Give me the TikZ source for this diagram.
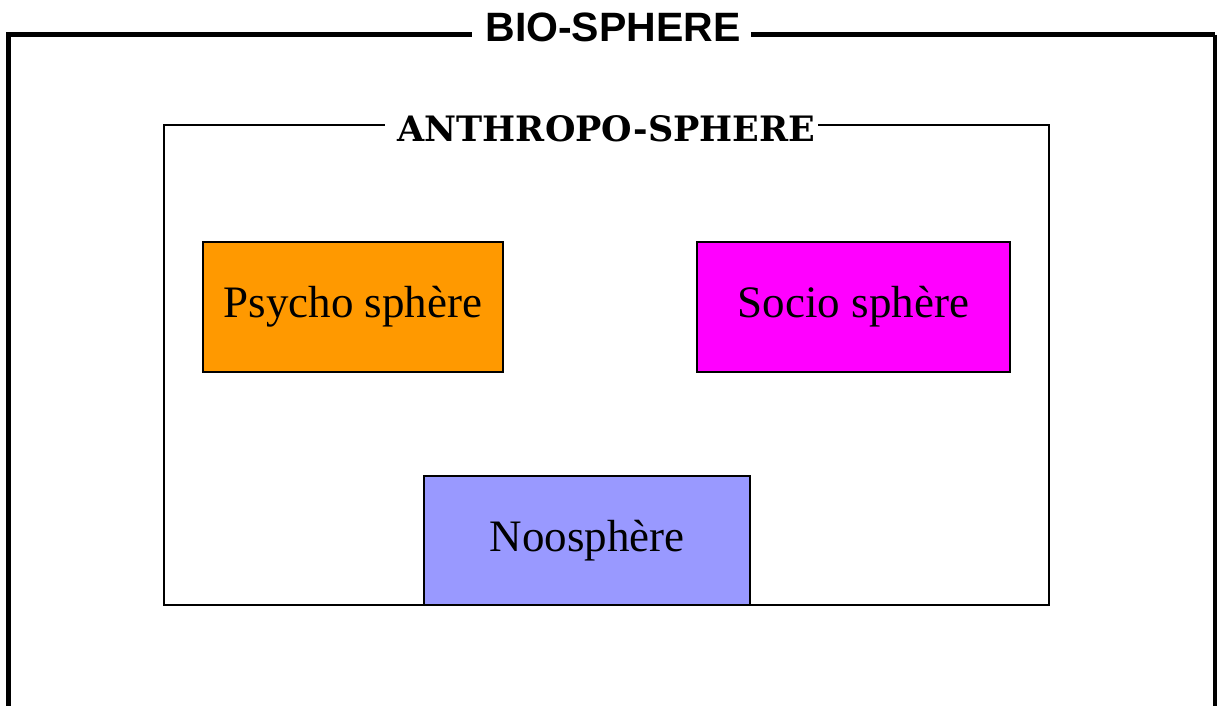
\documentclass[tikz,border=0pt]{standalone}
\usepackage{fontspec}
\setmainfont{Liberation Serif}
\newfontfamily\biofont{Liberation Sans}
\newfontfamily\anthropofont{DejaVu Serif}
\definecolor{psychocol}{HTML}{FF9900}
\definecolor{sociocol}{HTML}{FF00FF}
\definecolor{noocol}{HTML}{9999FF}
\tikzset{
    sphere/.style={draw, line width=1.8pt, inner sep=0pt, minimum height=130pt,
        font=\fontsize{45}{50}\selectfont},
    title/.style={inner sep=0pt}
}
\begin{document}
\begin{tikzpicture}[x=1pt, y=-1pt]
    \useasboundingbox (0,0) rectangle (1218,706);
    % titles
    \node [title, font=\biofont\bfseries\fontsize{41}{45}\selectfont] (bio) at (613,27.5) {BIO-SPHERE};
    \node [title, font=\anthropofont\bfseries\fontsize{35}{39}\selectfont] (anthropo) at (606.5,129) {ANTHROPO-SPHERE};
    % frame corners
    \coordinate (bioTL) at (8,35);
    \coordinate (bioTR) at (1215,35);
    \coordinate (bioBL) at (8,710);
    \coordinate (bioBR) at (1215,710);
    \coordinate (antTL) at (164,125);
    \coordinate (antTR) at (1049,125);
    \coordinate (antBL) at (164,605);
    \coordinate (antBR) at (1049,605);
    \draw [line width=5pt] (bioBL) -- (bioTL) -- ([xshift=-13pt]bio.west |- bioTL);
    \draw [line width=5pt] ([xshift=10pt]bio.east |- bioTR) -- (bioTR);
    \draw [line width=3.5pt] (bioTR) -- (bioBR);
    \draw [line width=2pt] ([xshift=-13pt]anthropo.west |- antTL) -- (antTL) -- (antBL) -- (antBR) -- (antTR) -- ([xshift=3pt]anthropo.east |- antTR);
    % spheres
    \node [sphere, fill=psychocol, minimum width=300pt] (psycho) at (353,307) {Psycho sphère};
    \node [sphere, fill=sociocol, minimum width=313pt] (socio) at (853.5,307) {Socio sphère};
    \node [sphere, fill=noocol, minimum width=326pt, minimum height=129pt] (noo) at (587,540.5) {Noosphère};
\end{tikzpicture}
\end{document}
